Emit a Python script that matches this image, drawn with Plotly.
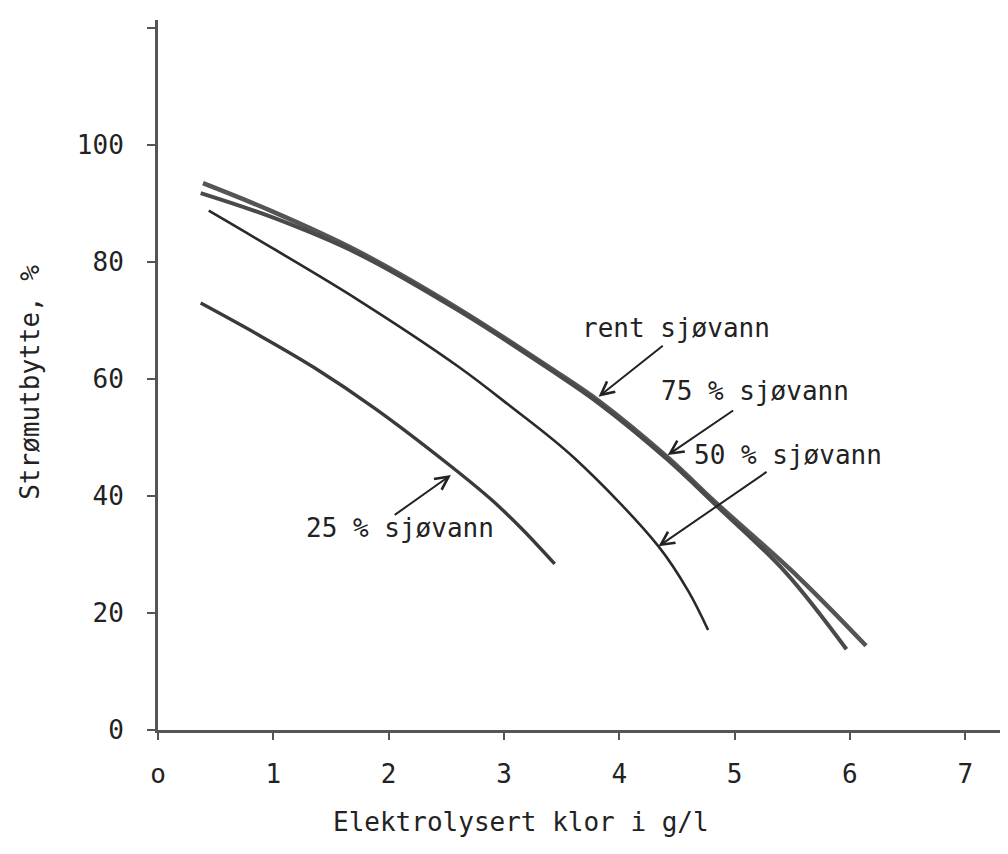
import plotly.graph_objects as go

# ---- data ----
rent_x = [0.39, 1.0, 1.73, 2.6, 3.41, 3.82, 4.42, 4.83, 5.55, 6.14]
rent_y = [93.5, 88.6, 81.9, 72.1, 61.8, 56.3, 46.6, 39.0, 26.2, 14.4]

s75_x = [0.37, 1.0, 1.73, 2.6, 3.41, 3.82, 4.42, 4.83, 5.44, 5.97]
s75_y = [91.8, 87.6, 81.5, 71.8, 61.5, 55.9, 46.2, 38.6, 27.0, 13.8]

s50_x = [0.44, 1.0, 1.73, 2.60, 3.04, 3.61, 4.34, 4.60, 4.77]
s50_y = [88.8, 82.3, 73.6, 62.2, 55.6, 46.5, 31.4, 23.7, 17.1]

s25_x = [0.37, 0.85, 1.36, 1.88, 2.54, 2.89, 3.15, 3.44]
s25_y = [73.0, 67.8, 61.9, 55.0, 45.1, 39.4, 34.5, 28.4]

x_ticks = [0, 1, 2, 3, 4, 5, 6, 7]
x_ticktext = ["o", "1", "2", "3", "4", "5", "6", "7"]
y_ticks = [0, 20, 40, 60, 80, 100, 120]
y_ticktext = ["0", "20", "40", "60", "80", "100", ""]

labels = ["rent sjøvann", "75 % sjøvann", "50 % sjøvann", "25 % sjøvann"]
label_x = [4.49, 5.18, 5.46, 2.10]
label_y = [68.7, 57.9, 47.0, 34.5]
arrow_tip_x = [3.82, 4.42, 4.34, 2.54]
arrow_tip_y = [57.0, 47.0, 31.4, 43.6]
arrow_tail_x = [4.39, 5.00, 5.29, 2.04]
arrow_tail_y = [65.9, 54.8, 44.3, 36.6]

FONT = "DejaVu Sans Mono"
INK = "#222222"
AXIS = "#555555"
FS = 26

fig = go.Figure()
fig.add_trace(go.Scatter(x=rent_x, y=rent_y, mode="lines", line=dict(color="#555555", width=4.5, shape="spline"), name="rent"))
fig.add_trace(go.Scatter(x=s75_x, y=s75_y, mode="lines", line=dict(color="#4a4a4a", width=4, shape="spline"), name="75"))
fig.add_trace(go.Scatter(x=s50_x, y=s50_y, mode="lines", line=dict(color="#2a2a2a", width=2.6, shape="spline"), name="50"))
fig.add_trace(go.Scatter(x=s25_x, y=s25_y, mode="lines", line=dict(color="#3a3a3a", width=3.4, shape="spline"), name="25"))

for t, lx, ly in zip(labels, label_x, label_y):
    fig.add_annotation(x=lx, y=ly, text=t, showarrow=False, xref="x", yref="y",
                       font=dict(family=FONT, size=FS, color=INK))
for tx, ty, ax, ay in zip(arrow_tip_x, arrow_tip_y, arrow_tail_x, arrow_tail_y):
    fig.add_annotation(x=tx, y=ty, ax=ax, ay=ay, xref="x", yref="y", axref="x", ayref="y",
                       text="", showarrow=True, arrowhead=5, arrowsize=1.3, arrowwidth=2,
                       arrowcolor=INK)

fig.add_annotation(text="Elektrolysert klor i g/l", xref="paper", yref="paper", x=0.423, y=0,
                   yanchor="middle", yshift=-92, showarrow=False,
                   font=dict(family=FONT, size=FS, color=INK))
fig.add_annotation(text="Strømutbytte, %", xref="paper", yref="paper", x=0, y=0.489,
                   xanchor="center", xshift=-128, textangle=-90, showarrow=False,
                   font=dict(family=FONT, size=FS, color=INK))

fig.update_layout(
    width=1008, height=854,
    margin=dict(l=150, r=0, t=12, b=132),
    paper_bgcolor="white", plot_bgcolor="white",
    showlegend=False,
    font=dict(family=FONT, size=FS, color=INK),
)
fig.update_xaxes(range=[0, 7.44], tickvals=x_ticks, ticktext=x_ticktext,
                 showline=True, linecolor=AXIS, linewidth=3, showgrid=False, zeroline=False,
                 ticks="outside", ticklen=7, tickwidth=2, tickcolor=AXIS, ticklabelstandoff=12)
fig.update_yaxes(range=[0, 121.4], tickvals=y_ticks, ticktext=y_ticktext,
                 showline=True, linecolor=AXIS, linewidth=3, showgrid=False, zeroline=False,
                 ticks="outside", ticklen=8, tickwidth=2, tickcolor=AXIS, ticklabelstandoff=18)

fig.write_html("out.html")
